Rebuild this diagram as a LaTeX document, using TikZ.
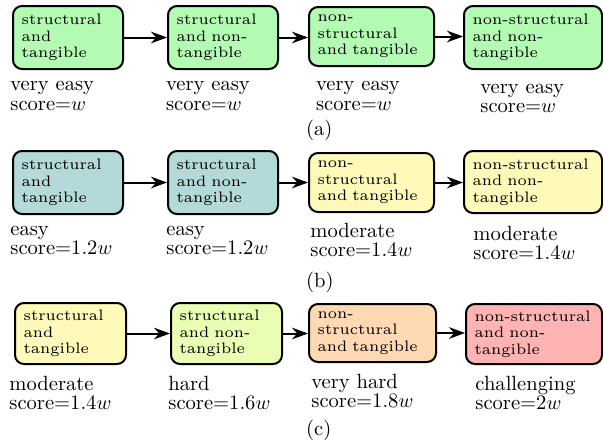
\documentclass[tikz,border=0pt]{standalone}
\usetikzlibrary{arrows.meta}
\definecolor{cgreen}{RGB}{179,250,179}
\definecolor{cteal}{RGB}{179,217,217}
\definecolor{cyellow}{RGB}{255,250,185}
\definecolor{clime}{RGB}{234,255,179}
\definecolor{corange}{RGB}{255,217,179}
\definecolor{cred}{RGB}{255,179,179}
\font\tmpboxfont="[lmroman6-regular]:mapping=tex-text" at 10pt
\newlength\tmpw
\settowidth\tmpw{\tmpboxfont structural}
\pgfmathsetmacro\boxsize{400/\tmpw}
\font\boxfont="[lmroman6-regular]:mapping=tex-text" at \boxsize pt
\tikzset{
  cbox/.style={draw=black, line width=1pt, rounded corners=4.5pt, inner xsep=4.3pt, inner ysep=0pt,
    align=left, font={\boxfont\baselineskip=8.25pt\exhyphenpenalty=10000 \hyphenpenalty=10000 }},
  lab/.style={anchor=base west, inner sep=0pt, text width=100pt, align=left,
    font={\fontsize{10.3}{9.9}\selectfont}},
  arr/.style={line width=1pt, -{Stealth[length=8pt,width=5.8pt,inset=2.6pt]}},
}
\newcommand\cbox[7]{\node[cbox, fill=#6, minimum width=#4pt, minimum height=#5pt, text width=#4pt-8.6pt] (#1) at (#2,#3) {#7};}
\begin{document}
\begin{tikzpicture}[x=0.5pt, y=-0.5pt]
\useasboundingbox (0,0) rectangle (603,445);
% row (a)
\cbox{A1}{68}{37.5}{55}{31.5}{cgreen}{structural\\and\\tangible}
\cbox{A2}{223}{37.5}{55}{31.5}{cgreen}{structural\\and non-\\tangible}
\cbox{A3}{371.5}{36.5}{62.5}{29.5}{cgreen}{non-\\structural\\and tangible}
\cbox{A4}{533}{37.5}{69}{31.5}{cgreen}{non-structural\\and non-\\tangible}
\draw[arr] (A1.east) -- (A2.west);
\draw[arr] (A2.east) -- (A2.east -| A3.west);
\draw[arr] (A3.east) -- (A3.east -| A4.west);
\node[lab] (A1l) at (10,90.7) {very easy\\score=$w$};
\node[lab] (A2l) at (165.7,90.7) {very easy\\score=$w$};
\node[lab] (A3l) at (315.7,90.5) {very easy\\score=$w$};
\node[lab] (A4l) at (480,93) {very easy\\score=$w$};
\node[lab] (capa) at (305.7,135) {(a)};
% row (b)
\cbox{B1}{68}{182.5}{55}{31.5}{cteal}{structural\\and\\tangible}
\cbox{B2}{223}{182.5}{55}{31.5}{cteal}{structural\\and non-\\tangible}
\cbox{B3}{371.5}{182.5}{62.5}{29.5}{cyellow}{non-\\structural\\and tangible}
\cbox{B4}{533}{182}{69}{31}{cyellow}{non-structural\\and non-\\tangible}
\draw[arr] (B1.east) -- (B2.west);
\draw[arr] (B2.east) -- (B2.east -| B3.west);
\draw[arr] (B3.east) -- (B3.east -| B4.west);
\node[lab] (B1l) at (10,235) {easy\\score=1.2$w$};
\node[lab] (B2l) at (166,235) {easy\\score=1.2$w$};
\node[lab] (B3l) at (310,237) {moderate\\score=1.4$w$};
\node[lab] (B4l) at (473,240) {moderate\\score=1.4$w$};
\node[lab] (capb) at (305.7,287) {(b)};
% row (c)
\cbox{C1}{70.5}{333.5}{55.5}{30.5}{cyellow}{structural\\and\\tangible}
\cbox{C2}{226.5}{333.5}{55.5}{30.5}{clime}{structural\\and non-\\tangible}
\cbox{C3}{372.5}{333}{63.5}{29}{corange}{non-\\structural\\and tangible}
\cbox{C4}{534}{334}{68}{30}{cred}{non-structural\\and non-\\tangible}
\draw[arr] (C1.east) -- (C2.west);
\draw[arr] (C2.east) -- (C2.east -| C3.west);
\draw[arr] (C3.east) -- (C3.east -| C4.west);
\node[lab] (C1l) at (9,390) {moderate\\score=1.4$w$};
\node[lab] (C2l) at (168,390) {hard\\score=1.6$w$};
\node[lab] (C3l) at (311,388) {very hard\\score=1.8$w$};
\node[lab] (C4l) at (475,390) {challenging\\score=2$w$};
\node[lab] (capc) at (305.7,435) {(c)};
\end{tikzpicture}
\end{document}
